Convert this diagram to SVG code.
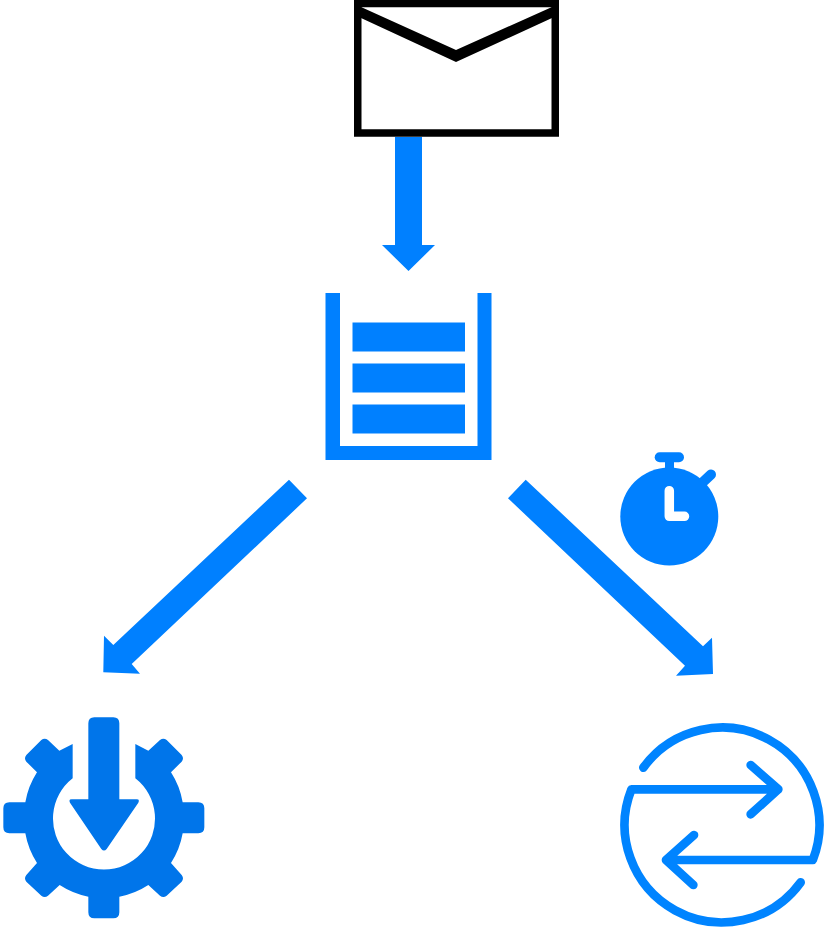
<svg xmlns="http://www.w3.org/2000/svg" width="833" height="936" viewBox="0 0 833 936">
<style>
.blue{fill:#0080ff}
.line{fill:none;stroke:#0084ff;stroke-width:26;stroke-linecap:round;stroke-linejoin:round}
</style>
<rect width="833" height="936" fill="#fff"/>
<g id="connectors" class="blue">
<polygon id="arrow-mail-queue" points="395,137 422,137 422,245 435,245 408.500,271 382,245 395,245"/>
<polygon id="arrow-queue-consumer" points="289,479.700 307,498.300 131.700,664 140,673.700 103.300,672.300 104,635.700 113.300,645"/>
<polygon id="arrow-queue-exchange" points="525.700,479.700 508,498.300 685,665.700 676,675.700 713,674 712,637.700 703,646.300"/>
</g>
<g id="mail">
<rect x="357.750" y="3.500" width="197.500" height="129.500" fill="#fff" stroke="#000" stroke-width="7.500"/>
<polygon points="361,7 456,50 552,7 552,18 456,62 361,18" fill="#000"/>
</g>
<g id="queue" class="blue">
<polygon points="325.500,293 340,293 340,446 477.500,446 477.500,293 491.500,293 491.500,460 325.500,460"/>
<rect x="352.500" y="322.500" width="112.500" height="29"/>
<rect x="352.500" y="363.500" width="112.500" height="29"/>
<rect x="352.500" y="404.500" width="112.500" height="29"/>
</g>
<g id="timer">
<circle cx="669.300" cy="516.500" r="49" class="blue"/>
<rect x="654.700" y="452.300" width="29.300" height="10" rx="5" class="blue"/>
<rect x="665" y="458" width="9" height="14" class="blue"/>
<path d="M703,482 L711,474.500" fill="none" stroke="#0080ff" stroke-width="10" stroke-linecap="round"/>
<path d="M669.300,490.700 V516.300 H684.500" fill="none" stroke="#fff" stroke-width="9.500" stroke-linecap="round" stroke-linejoin="round"/>
</g>
<g id="consumer" transform="translate(0,700) scale(0.33333)" fill="#0075ea">
<path d="M406,132 L445,152 L480,120 Q490,112 500,120 L545,165 Q553,175 545,185 L513,217 A240,240 0 0 1 548,307 L595,307 Q613,307 613,325 L613,382 Q613,400 595,400 L548,400 A240,240 0 0 1 513,489 L545,525 Q553,535 545,545 L500,587 Q490,595 480,587 L445,555 A240,240 0 0 1 358,590 L358,637 Q358,655 340,655 L283,655 Q265,655 265,637 L265,590 A240,240 0 0 1 179,555 L144,587 Q134,595 124,587 L79,545 Q71,535 79,525 L111,489 A240,240 0 0 1 76,400 L28,400 Q10,400 10,382 L10,325 Q10,307 28,307 L76,307 A240,240 0 0 1 111,217 L79,185 Q71,175 79,165 L124,120 Q134,112 144,120 L178,152 L218,132 L218,235 A153,153 0 1 0 406,235 Z"/>
<path d="M265,70 Q265,52 283,52 L340,52 Q358,52 358,70 L358,298 L410,298 Q420,298 415,308 L320,447 Q312,456 304,447 L210,308 Q205,298 215,298 L265,298 Z"/>
</g>
<g id="exchange" transform="translate(600,700) scale(0.33333)">
<path class="line" d="M130,203 A292,292 0 0 1 638.500,480 L198,480 M282,405 L198,480 L280,555"/>
<path class="line" d="M602,547 A292,292 0 0 1 94.300,268 L535,268 M452,195 L535,268 L452,343"/>
</g>
</svg>
